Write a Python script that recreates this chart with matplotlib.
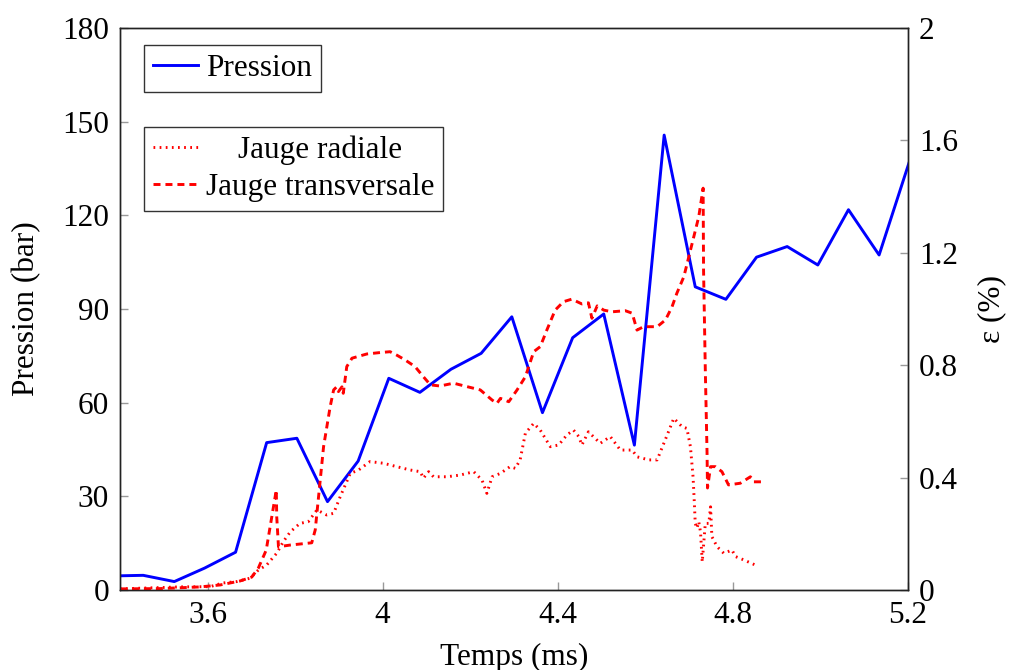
import matplotlib
matplotlib.use("Agg")
import matplotlib.pyplot as plt
from matplotlib.transforms import Affine2D

plt.rcParams['font.family'] = ['Liberation Serif', 'DejaVu Serif']
plt.rcParams['mathtext.fontset'] = 'stix'

# Pression (bar) vs temps (ms)
t_pression = [3.383, 3.453, 3.524, 3.593, 3.664, 3.735, 3.804, 3.874, 3.944,
              4.014, 4.085, 4.156, 4.225, 4.295, 4.365, 4.434, 4.505, 4.575,
              4.643, 4.714, 4.784, 4.854, 4.924, 4.994, 5.064, 5.134, 5.202]
pression = [4.5, 4.7, 2.7, 7.0, 12.1, 47.2, 48.6, 28.3, 41.3,
            67.8, 63.3, 70.7, 75.8, 87.5, 56.8, 80.8, 88.4, 46.4,
            145.7, 97.1, 93.1, 106.6, 110.0, 104.1, 121.8, 107.3, 136.7]

# Jauge transversale (%)
t_trans = [3.400, 3.491, 3.583, 3.629, 3.674, 3.701, 3.716, 3.734, 3.757, 3.758,
           3.762, 3.789, 3.838, 3.846, 3.865, 3.880, 3.888, 3.895, 3.899, 3.907,
           3.910, 3.918, 3.930, 3.964, 3.994, 4.017, 4.032, 4.051, 4.074, 4.093,
           4.109, 4.131, 4.162, 4.192, 4.223, 4.250, 4.261, 4.269, 4.288, 4.307,
           4.326, 4.345, 4.360, 4.375, 4.394, 4.413, 4.432, 4.455, 4.470, 4.478,
           4.490, 4.505, 4.524, 4.554, 4.570, 4.581, 4.596, 4.627, 4.646, 4.661,
           4.672, 4.688, 4.707, 4.722, 4.732, 4.733, 4.737, 4.741, 4.742, 4.749,
           4.760, 4.775, 4.790, 4.817, 4.840, 4.848, 4.867]
e_trans = [0.004, 0.005, 0.011, 0.018, 0.032, 0.046, 0.078, 0.142, 0.356, 0.261,
           0.154, 0.160, 0.168, 0.214, 0.510, 0.652, 0.712, 0.723, 0.706, 0.723,
           0.700, 0.795, 0.825, 0.840, 0.845, 0.848, 0.836, 0.819, 0.795, 0.759,
           0.730, 0.726, 0.736, 0.724, 0.712, 0.676, 0.664, 0.682, 0.670, 0.712,
           0.759, 0.848, 0.866, 0.925, 0.996, 1.026, 1.035, 1.018, 1.022, 0.967,
           1.011, 0.996, 0.990, 0.994, 0.985, 0.925, 0.937, 0.937, 0.961, 1.008,
           1.056, 1.115, 1.234, 1.328, 1.430, 1.139, 0.783, 0.486, 0.363, 0.439,
           0.439, 0.421, 0.374, 0.380, 0.403, 0.385, 0.385]

# Jauge radiale (%)
t_rad = [3.400, 3.537, 3.606, 3.635, 3.667, 3.697, 3.716, 3.735, 3.758, 3.773,
         3.789, 3.811, 3.830, 3.850, 3.872, 3.888, 3.903, 3.926, 3.945, 3.971,
         4.002, 4.032, 4.063, 4.086, 4.093, 4.105, 4.116, 4.147, 4.177, 4.208,
         4.227, 4.238, 4.250, 4.269, 4.291, 4.303, 4.314, 4.326, 4.345, 4.360,
         4.383, 4.402, 4.421, 4.436, 4.448, 4.455, 4.470, 4.497, 4.520, 4.543,
         4.570, 4.581, 4.608, 4.627, 4.650, 4.665, 4.684, 4.695, 4.703, 4.709,
         4.712, 4.714, 4.718, 4.722, 4.726, 4.730, 4.737, 4.745, 4.749, 4.752,
         4.764, 4.779, 4.798, 4.806, 4.825, 4.851, 4.856]
e_rad = [0.004, 0.011, 0.012, 0.025, 0.030, 0.042, 0.071, 0.089, 0.131, 0.172,
         0.207, 0.237, 0.243, 0.285, 0.267, 0.273, 0.332, 0.415, 0.427, 0.457,
         0.451, 0.439, 0.427, 0.421, 0.398, 0.421, 0.403, 0.403, 0.409, 0.421,
         0.391, 0.344, 0.403, 0.415, 0.439, 0.433, 0.463, 0.558, 0.593, 0.569,
         0.510, 0.516, 0.552, 0.569, 0.546, 0.516, 0.563, 0.522, 0.546, 0.498,
         0.498, 0.474, 0.463, 0.463, 0.552, 0.611, 0.581, 0.575, 0.510, 0.403,
         0.309, 0.237, 0.220, 0.243, 0.207, 0.100, 0.237, 0.237, 0.296, 0.190,
         0.154, 0.131, 0.142, 0.119, 0.107, 0.089, 0.085]

x_ticks = [3.6, 4.0, 4.4, 4.8, 5.2]
x_ticklabels = ['3.6', '4', '4.4', '4.8', '5.2']
y_ticks = [0, 30, 60, 90, 120, 150, 180]
y2_ticks = [0, 0.4, 0.8, 1.2, 1.6, 2.0]
y2_ticklabels = ['0', '0.4', '0.8', '1.2', '1.6', '2']

FS = 22.5
fig = plt.figure(figsize=(10.12, 6.70), dpi=100)
ax = fig.add_axes([120 / 1012, 1 - 590 / 670, 788 / 1012, 562 / 670])
ax2 = ax.twinx()

lw = 2.1
l1, = ax.plot(t_pression, pression, color='#0000ff', lw=lw, label='Pression')
l2, = ax2.plot(t_rad, e_rad, color='#ff0000', lw=lw, linestyle=(0, (0.6, 1.5)),
               dash_capstyle='butt', label='Jauge radiale')
l3, = ax2.plot(t_trans, e_trans, color='#ff0000', lw=lw, linestyle=(0, (2.4, 1.7)),
               label='Jauge transversale')

ax.set_xlim(3.4, 5.2)
ax.set_ylim(0, 180)
ax2.set_ylim(0, 2)
ax.set_xticks(x_ticks)
ax.set_xticklabels(x_ticklabels)
ax.set_yticks(y_ticks)
ax2.set_yticks(y2_ticks)
ax2.set_yticklabels(y2_ticklabels)

for a in (ax, ax2):
    a.tick_params(direction='in', length=6, width=1, color='#999999',
                  labelsize=FS, pad=8)
    for s in a.spines.values():
        s.set_linewidth(1.0)
        s.set_color('#222222')
ax.tick_params(axis='x', top=False)
ax.tick_params(axis='y', right=False)

ax.set_xlabel('Temps (ms)', fontsize=FS, labelpad=9)
ax.set_ylabel('Pression (bar)', fontsize=FS, labelpad=15)
ax2.set_ylabel('ε (%)', fontsize=FS, labelpad=14)

common = dict(loc='upper left', fontsize=FS, frameon=True, fancybox=False,
              edgecolor='black', handlelength=1.45, handletextpad=0.25,
              borderpad=0.28, borderaxespad=0)
leg1 = ax2.legend(handles=[l1], bbox_to_anchor=(24 / 788, 1 - 17 / 562), **common)
leg1.get_frame().set_linewidth(1.0)
ax2.add_artist(leg1)
leg2 = ax2.legend(handles=[l2, l3], bbox_to_anchor=(24 / 788, 1 - 99 / 562),
                  labelspacing=0.25, **common)
leg2.get_frame().set_linewidth(1.0)

# centre the legend labels like the original
fig.canvas.draw()
r = fig.canvas.get_renderer()
texts = leg2.get_texts()
widths = [tx.get_window_extent(r).width for tx in texts]
wmax = max(widths)
for tx, w in zip(texts, widths):
    dx = (wmax - w) / 2
    if dx > 0:
        tx.set_transform(tx.get_transform() + Affine2D().translate(dx, 0))

fig.savefig('out.png', dpi=100)
